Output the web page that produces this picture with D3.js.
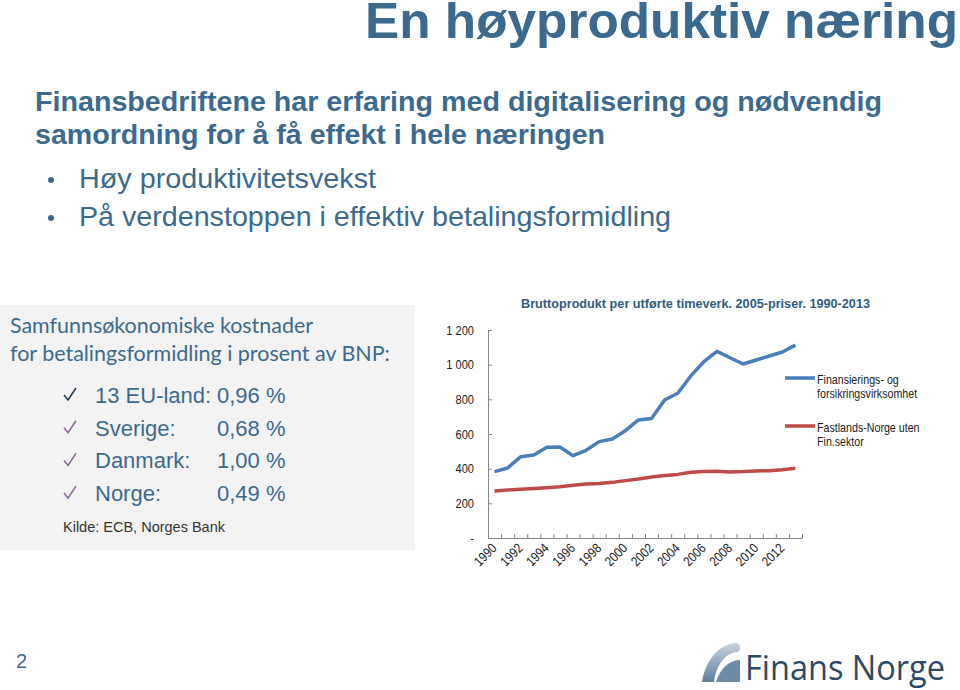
<!DOCTYPE html>
<html lang="no">
<head>
<meta charset="UTF-8">
<title>En høyproduktiv næring</title>
<script src="https://d3js.org/d3.v7.min.js"></script>
<style>
  body { margin: 0; background: #fff; }
  svg { display: block; }
  .narrow { font-family: "Liberation Sans", Arial, sans-serif; }
  .axis path, .axis line { stroke: #868686; }
</style>
</head>
<body>
<svg width="960" height="690"></svg>
<script>
// data
const years = d3.range(1990, 2014);
const finans = [383, 404, 469, 479, 523, 525, 475, 506, 556, 571, 619, 681,
                690, 796, 835, 935, 1017, 1077, 1040, 1004, 1027, 1050, 1073, 1113];
const fastland = [271, 277, 281, 285, 290, 296, 304, 312, 315, 321, 331, 340,
                  352, 360, 367, 379, 383, 385, 381, 383, 387, 388, 394, 402];
const yTicks = [0, 200, 400, 600, 800, 1000, 1200];
const seriesNames = [["Finansierings- og", "forsikringsvirksomhet"], ["Fastlands-Norge uten", "Fin.sektor"]];
const countries = ["13 EU-land:", "Sverige:", "Danmark:", "Norge:"];
const costs = ["0,96 %", "0,68 %", "1,00 %", "0,49 %"];

const blue = "#3c6a8e";
const svg = d3.select("svg");

// squeeze text horizontally (Arial Narrow look, no narrow font installed)
const condense = (sel, f) => sel.each(function () {
    const w = this.getComputedTextLength();
    d3.select(this).attr("textLength", w * f).attr("lengthAdjust", "spacingAndGlyphs");
});

// slide header
svg.append("text")
    .attr("x", 958).attr("y", 38)
    .attr("text-anchor", "end")
    .attr("textLength", 593).attr("lengthAdjust", "spacingAndGlyphs")
    .style("font", "bold 50px 'Liberation Sans', Arial, sans-serif")
    .attr("fill", blue)
    .text("En høyproduktiv næring");

const sub = svg.append("g").style("font", "bold 28px 'Liberation Sans', Arial, sans-serif").attr("fill", blue);
sub.append("text").attr("x", 35).attr("y", 111)
    .attr("textLength", 847).attr("lengthAdjust", "spacingAndGlyphs")
    .text("Finansbedriftene har erfaring med digitalisering og nødvendig");
sub.append("text").attr("x", 35).attr("y", 144)
    .attr("textLength", 570).attr("lengthAdjust", "spacingAndGlyphs")
    .text("samordning for å få effekt i hele næringen");

const bullets = ["Høy produktivitetsvekst", "På verdenstoppen i effektiv betalingsformidling"];
const bulletLen = [297, 592];
bullets.forEach((b, i) => {
    const y = 188 + i * 38;
    svg.append("circle").attr("cx", 51).attr("cy", y - 8).attr("r", 3).attr("fill", blue);
    svg.append("text").attr("x", 79).attr("y", y)
        .attr("textLength", bulletLen[i]).attr("lengthAdjust", "spacingAndGlyphs")
        .style("font", "28px 'Liberation Sans', Arial, sans-serif")
        .attr("fill", blue).text(b);
});

// grey box on the left
svg.append("rect").attr("x", 0).attr("y", 305).attr("width", 415).attr("height", 245).attr("fill", "#f3f3f3");
const box = svg.append("g").style("font", "21px Lato, 'Open Sans', sans-serif").attr("fill", blue);
box.append("text").attr("x", 10).attr("y", 333)
    .attr("textLength", 303).attr("lengthAdjust", "spacingAndGlyphs")
    .text("Samfunnsøkonomiske kostnader");
box.append("text").attr("x", 10).attr("y", 361)
    .attr("textLength", 380).attr("lengthAdjust", "spacingAndGlyphs")
    .text("for betalingsformidling i prosent av BNP:");

countries.forEach((c, i) => {
    const y = 403 + i * 32.7;
    svg.append("path")
        .attr("d", `M${64},${y - 8} L${68},${y - 3} L${76},${y - 15}`)
        .attr("fill", "none")
        .attr("stroke", i === 0 ? "#1f3b5a" : "#8a6a9a")
        .attr("stroke-width", 1.6);
    svg.append("text").attr("x", 95).attr("y", y)
        .style("font", "22px 'Liberation Sans', Arial, sans-serif")
        .attr("fill", blue).text(c);
    svg.append("text").attr("x", 217).attr("y", y)
        .style("font", "22px 'Liberation Sans', Arial, sans-serif")
        .attr("fill", blue).text(costs[i]);
});
svg.append("text").attr("x", 63).attr("y", 532)
    .style("font", "14.5px 'Liberation Sans', Arial, sans-serif")
    .attr("fill", "#333").text("Kilde: ECB, Norges Bank");

// line chart
const x = d3.scaleBand().domain(years).range([488, 802]);
const xEdge = d3.scaleLinear().domain([0, years.length]).range([488, 802]);
const y = d3.scaleLinear().domain([0, 1200]).range([538, 330]);
const cx = d => x(d) + x.bandwidth() / 2;

svg.append("text")
    .attr("class", "narrow")
    .attr("x", 521).attr("y", 308)
    .attr("textLength", 349).attr("lengthAdjust", "spacingAndGlyphs")
    .style("font-size", "13.5px").style("font-weight", "bold")
    .attr("fill", "#2f5b85")
    .text("Bruttoprodukt per utførte timeverk. 2005-priser. 1990-2013");

svg.append("g")
    .attr("class", "axis narrow")
    .attr("transform", "translate(488,0)")
    .call(d3.axisLeft(y).tickValues(yTicks).tickSize(-4).tickSizeOuter(0).tickPadding(14)
        .tickFormat(d => d === 0 ? "-" : d3.format(",")(d).replace(",", " ")))
    .call(g => g.selectAll("text").style("font-size", "13px").attr("fill", "#222").call(condense, 0.85));

svg.append("g")
    .attr("class", "axis")
    .attr("transform", "translate(0,538)")
    .call(d3.axisBottom(xEdge).tickValues(d3.range(years.length + 1)).tickSize(-4).tickSizeOuter(0).tickFormat(""));

svg.append("g").attr("class", "narrow")
    .selectAll("text")
    .data(years.filter(d => d % 2 === 0))
    .join("text")
    .attr("transform", d => `translate(${cx(d) + 3},549) rotate(-45)`)
    .attr("text-anchor", "end")
    .style("font-size", "13.5px")
    .attr("fill", "#222")
    .text(d => d)
    .call(condense, 0.85);

const line = d3.line().x((d, i) => cx(years[i])).y(d => y(d));
[[finans, "#4a7ebb"], [fastland, "#be4b48"]].forEach(([vals, col]) => {
    svg.append("path")
        .datum(vals)
        .attr("d", line)
        .attr("fill", "none")
        .attr("stroke", col)
        .attr("stroke-width", 3.5)
        .attr("stroke-linejoin", "round");
});

// legend
[["#4a7ebb", 378], ["#be4b48", 426]].forEach(([col, ly], i) => {
    svg.append("line").attr("x1", 785).attr("x2", 815).attr("y1", ly).attr("y2", ly)
        .attr("stroke", col).attr("stroke-width", 3.5);
    seriesNames[i].forEach((t, j) => {
        svg.append("text").attr("class", "narrow")
            .attr("x", 817).attr("y", ly + 6 + j * 14)
            .style("font-size", "13px").attr("fill", "#222").text(t)
            .call(condense, 0.82);
    });
});

// page number and logo
svg.append("text").attr("x", 16).attr("y", 668)
    .style("font", "20px 'Liberation Sans', Arial, sans-serif").attr("fill", blue).text("2");

const grad = svg.append("defs").append("linearGradient").attr("id", "lg")
    .attr("x1", 0).attr("y1", 0).attr("x2", 0).attr("y2", 1);
grad.append("stop").attr("offset", 0).attr("stop-color", "#c9d3de");
grad.append("stop").attr("offset", 1).attr("stop-color", "#5f7f9f");
svg.append("path")
    .attr("d", "M702,682 C706,660 718,645 735,643 C742,643 741,650 738,652 C726,652 716,665 714,682 Z")
    .attr("fill", "url(#lg)");
svg.append("path")
    .attr("d", "M716,682 C720,668 730,660 740,660 L740,682 Z")
    .attr("fill", "#6d8aa8");
svg.append("text").attr("x", 745).attr("y", 680)
    .attr("textLength", 200).attr("lengthAdjust", "spacingAndGlyphs")
    .style("font", "35px 'Open Sans', 'Liberation Sans', sans-serif")
    .attr("fill", "#2c4a66").text("Finans Norge");
</script>
</body>
</html>
